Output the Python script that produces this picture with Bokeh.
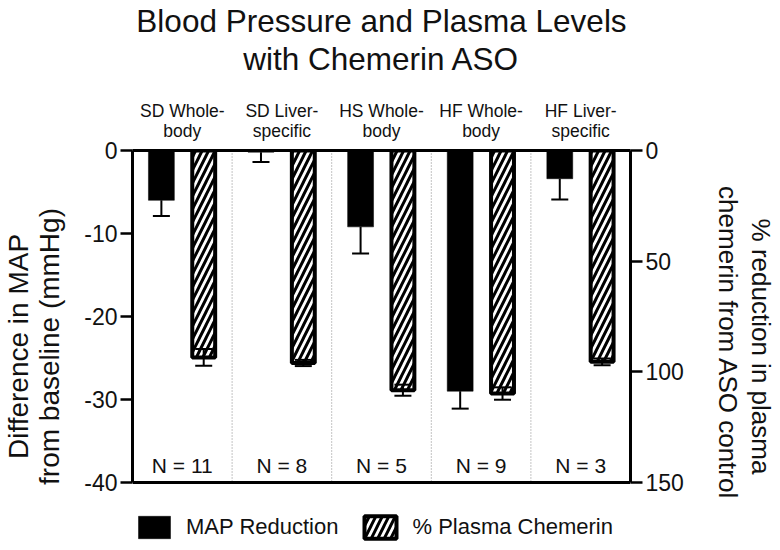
from bokeh.plotting import figure
from bokeh.models import (Range1d, LinearAxis, FixedTicker, ColumnDataSource,
                          Legend, LegendItem, Whisker, TeeHead, Span)
from bokeh.core.properties import value
from bokeh.embed import file_html
from bokeh.resources import INLINE

# ---- data ----
title_text = "Blood Pressure and Plasma Levels\nwith Chemerin ASO"
groups = ["SD Whole-\nbody", "SD Liver-\nspecific", "HS Whole-\nbody",
          "HF Whole-\nbody", "HF Liver-\nspecific"]
n_labels = ["N = 11", "N = 8", "N = 5", "N = 9", "N = 3"]
map_mean = [-6.0, -0.2, -9.2, -29.0, -3.4]
map_err = [1.9, 1.2, 3.2, 2.1, 2.5]
pct_mean = [93.5, 96.0, 108.3, 109.8, 95.5]
pct_err = [3.8, 1.4, 2.5, 2.8, 1.5]
left_ticks = [-40, -30, -20, -10, 0]
right_ticks = [0, 50, 100, 150]
series_names = ["MAP Reduction", "% Plasma Chemerin"]

FONT = "Liberation Sans"
ng = len(groups)
centers = [i + 0.5 for i in range(ng)]

# plotting box is 332 px tall; the frame is extended 60 px lower to hold the key
BOX_H, KEY_H = 332, 60
lo, hi = left_ticks[0], left_ticks[-1]
ext_l = KEY_H * (hi - lo) / BOX_H
ext_r = KEY_H * (right_ticks[-1] - right_ticks[0]) / BOX_H

src = ColumnDataSource(dict(
    xm=[i + 0.29 for i in range(ng)],
    xp=[i + 0.715 for i in range(ng)],
    map_mean=map_mean,
    map_lo=[m - e for m, e in zip(map_mean, map_err)],
    pct_mean=pct_mean,
    pct_lo=[m - e for m, e in zip(pct_mean, pct_err)],
    pct_hi=[m + e for m, e in zip(pct_mean, pct_err)],
))

p = figure(frame_width=498, frame_height=BOX_H + KEY_H, title=None,
           x_range=Range1d(0, ng), y_range=Range1d(lo - ext_l, hi),
           x_axis_type=None, y_axis_type=None,
           output_backend="svg", toolbar_location=None,
           min_border_left=0, min_border_right=0,
           min_border_top=0, min_border_bottom=0)
p.extra_y_ranges = {"pct": Range1d(right_ticks[-1] + ext_r, right_ticks[0])}
p.outline_line_color = None
p.background_fill_color = "white"
p.border_fill_color = "white"

# bottom edge of the plotting box
p.add_layout(Span(location=lo, dimension="width", line_color="black",
                  line_width=3))

# separators
bounds = list(range(1, ng))
p.segment(x0=bounds, y0=[hi] * len(bounds), x1=bounds,
          y1=[lo] * len(bounds), line_color="#888888",
          line_width=1, line_dash="1 2")

r_map = p.vbar(x="xm", top=0, bottom="map_mean", width=0.26, source=src,
               fill_color="black", line_color="black", line_width=0.5)
r_pct = p.vbar(x="xp", top=0, bottom="pct_mean", width=0.23, source=src,
               y_range_name="pct", fill_color="white", line_color="black",
               line_width=4, hatch_pattern="/", hatch_color="black",
               hatch_weight=3, hatch_scale=13)

w1 = Whisker(source=src, base="xm", upper="map_mean", lower="map_lo",
             dimension="height", line_width=2, line_color="black",
             upper_head=None, lower_head=TeeHead(size=17, line_width=2),
             level="overlay")
w2 = Whisker(source=src, base="xp", upper="pct_hi", lower="pct_lo",
             dimension="height", line_width=2, line_color="black",
             y_range_name="pct",
             upper_head=TeeHead(size=17, line_width=2),
             lower_head=TeeHead(size=17, line_width=2), level="overlay")
p.add_layout(w1)
p.add_layout(w2)

p.text(x=centers, y=[-38] * ng, text=n_labels, text_align="center",
       text_baseline="middle", text_font=value(FONT), text_font_size="21px",
       text_color="#111111")

# axes
def style_axis(ax):
    ax.axis_line_color = "black"
    ax.axis_line_width = 3
    ax.major_tick_line_color = "black"
    ax.major_tick_line_width = 2.5
    ax.major_tick_out = 12
    ax.major_tick_in = 0
    ax.minor_tick_line_color = None
    ax.major_label_text_font = FONT
    ax.major_label_text_font_size = "23px"
    ax.major_label_text_color = "#111111"
    ax.major_label_standoff = 3
    ax.axis_label_text_font = FONT
    ax.axis_label_text_font_style = "normal"
    ax.axis_label_text_color = "#111111"

yl = LinearAxis(ticker=FixedTicker(ticks=left_ticks), bounds=(lo, hi),
                major_label_overrides={t: str(t) for t in left_ticks},
                axis_label="Difference in MAP\nfrom baseline (mmHg)")
style_axis(yl)
yl.axis_label_text_font_size = "28px"
yl.axis_label_text_line_height = 1.0
yl.axis_label_standoff = 16
p.add_layout(yl, "left")

yr = LinearAxis(y_range_name="pct", ticker=FixedTicker(ticks=right_ticks),
                bounds=(right_ticks[0], right_ticks[-1]),
                axis_label="% reduction in plasma\nchemerin from  ASO control")
style_axis(yr)
yr.axis_label_text_font_size = "26px"
yr.axis_label_text_line_height = 1.1
yr.axis_label_standoff = 26
p.add_layout(yr, "right")

# top axis: its line is the zero line; group names as tick labels,
# chart title as its axis label
xa = LinearAxis(ticker=FixedTicker(ticks=centers),
                major_label_overrides={c: g for c, g in zip(centers, groups)},
                axis_label=title_text)
xa.axis_line_color = "black"
xa.axis_line_width = 3
xa.major_tick_line_color = None
xa.minor_tick_line_color = None
xa.major_label_text_font = FONT
xa.major_label_text_font_size = "17.5px"
xa.major_label_text_color = "#111111"
xa.major_label_text_line_height = 1.0
xa.major_label_standoff = 4
xa.axis_label_text_font = FONT
xa.axis_label_text_font_size = "31.5px"
xa.axis_label_text_font_style = "normal"
xa.axis_label_text_color = "#111111"
xa.axis_label_text_line_height = 1.03
xa.axis_label_standoff = 21
p.add_layout(xa, "above")

legend = Legend(items=[LegendItem(label=series_names[0], renderers=[r_map]),
                       LegendItem(label=series_names[1], renderers=[r_pct])],
                orientation="horizontal", location=(2, 1),
                glyph_width=40, glyph_height=28, label_standoff=12,
                spacing=22, padding=0, margin=0,
                label_text_font=FONT, label_text_font_size="22px",
                label_text_color="#111111",
                border_line_color=None, background_fill_alpha=0)
p.add_layout(legend)

open("out.html", "w").write(file_html(p, INLINE))
